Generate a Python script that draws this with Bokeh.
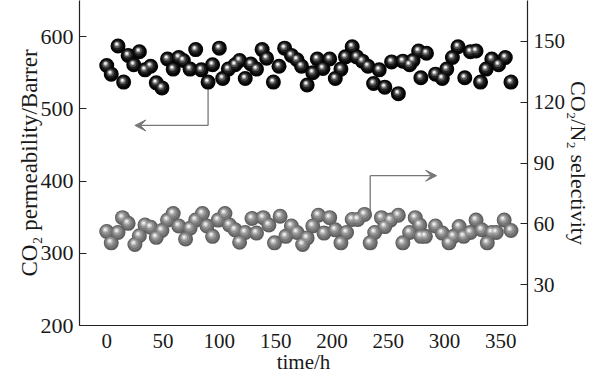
from bokeh.plotting import figure
from bokeh.models import Range1d, LinearAxis, FixedTicker, ColumnDataSource, Arrow, VeeHead
from bokeh.transform import dodge
from bokeh.embed import file_html
from bokeh.resources import INLINE

# ---- data ----
perm_time = [0, 4, 10, 15, 19, 24, 29, 34, 39, 44, 49, 54, 59, 64, 68, 74, 79, 84, 90, 94,
             100, 103, 108, 114, 118, 123, 128, 133, 138, 142, 148, 153, 158, 164, 169, 173,
             178, 183, 187, 192, 198, 203, 208, 212, 218, 222, 227, 232, 237, 242, 247, 253,
             259, 263, 269, 272, 277, 279, 284, 292, 298, 302, 307, 312, 318, 323, 328, 332,
             337, 342, 348, 354, 359]
perm_vals = [560, 548, 587, 537, 574, 561, 579, 554, 559, 536, 529, 569, 555, 571, 567, 555,
             582, 554, 537, 561, 584, 542, 555, 561, 567, 542, 562, 555, 582, 570, 537, 559,
             584, 574, 568, 559, 533, 550, 569, 556, 569, 542, 555, 572, 586, 572, 566, 559,
             535, 554, 530, 565, 521, 566, 561, 567, 580, 543, 577, 548, 542, 555, 571, 586,
             543, 579, 580, 537, 555, 569, 561, 571, 537]

sel_time = [0, 4, 10, 14, 19, 25, 29, 34, 39, 44, 49, 54, 59, 64, 70, 74, 79, 85, 89, 94,
            99, 105, 109, 114, 118, 123, 129, 133, 139, 144, 149, 154, 159, 164, 169, 174,
            178, 183, 188, 193, 198, 203, 208, 213, 218, 223, 229, 234, 238, 244, 247, 252,
            259, 263, 269, 274, 278, 279, 283, 292, 298, 304, 308, 313, 317, 323, 328, 333,
            338, 342, 346, 353, 359]
sel_vals = [56.3, 50.7, 55.8, 63.1, 60.3, 49.9, 54.2, 59.5, 58.4, 53.4, 56.8, 61.9, 65.1, 59.0,
            52.6, 57.9, 61.9, 65.1, 59.0, 53.9, 61.9, 65.1, 59.5, 57.1, 51.0, 55.8, 62.7, 55.5,
            63.1, 59.5, 50.7, 63.8, 53.9, 59.0, 55.8, 49.9, 53.1, 59.0, 64.3, 55.5, 63.1, 57.1,
            50.7, 55.8, 62.2, 62.2, 64.7, 50.7, 55.8, 63.1, 58.7, 61.9, 64.3, 50.7, 55.8, 63.1,
            59.5, 53.9, 53.9, 59.0, 55.5, 50.7, 53.9, 58.7, 53.9, 55.8, 61.9, 57.1, 50.7, 55.8,
            55.8, 61.9, 56.8]

x_ticks = [0, 50, 100, 150, 200, 250, 300, 350]
left_ticks = [200, 300, 400, 500, 600]
right_ticks = [30, 60, 90, 120, 150]

x_title = "time/h"
left_title = "CO\u2082 permeability/Barrer"
right_title = "CO\u2082/N\u2082 selectivity"

# annotation arrows (data units, left axis)
arrow_left = dict(x0=90, y0=537, y1=477, x_end=25)
arrow_right = dict(x0=234, y0=350, y1=407.5, x_end=293)

FONT = "Liberation Serif"
TXT = "#1a1a1a"

p = figure(width=596, height=376, output_backend="svg", toolbar_location=None,
           x_range=Range1d(-24.2, 373.7), y_range=Range1d(200, 650),
           min_border_left=79, min_border_right=69, min_border_top=0, min_border_bottom=50)
p.extra_y_ranges = {"sel": Range1d(10, 170)}
p.outline_line_color = None
p.xgrid.visible = False
p.ygrid.visible = False
p.background_fill_color = "white"
p.border_fill_color = "white"

xa = p.xaxis[0]
xa.ticker = FixedTicker(ticks=x_ticks)
xa.axis_label = x_title
xa.major_tick_in = 0
xa.major_tick_out = 0
xa.major_label_standoff = 8
xa.axis_label_standoff = -1

ya = p.yaxis[0]
ya.ticker = FixedTicker(ticks=left_ticks)
ya.axis_label = left_title
ya.major_tick_in = 7
ya.major_tick_out = 0
ya.major_label_standoff = 6
ya.axis_label_standoff = -4

ra = LinearAxis(y_range_name="sel", ticker=FixedTicker(ticks=right_ticks), axis_label=right_title)
ra.major_tick_in = 7
ra.major_tick_out = 0
ra.major_label_standoff = 6
ra.axis_label_standoff = -2
p.add_layout(ra, "right")

for ax in (xa, ya, ra):
    ax.minor_tick_line_color = None
    ax.axis_line_color = "#222222"
    ax.axis_line_width = 1.2
    ax.major_tick_line_color = "#222222"
    ax.major_label_text_font = FONT
    ax.major_label_text_font_size = "22px"
    ax.major_label_text_color = TXT
    ax.axis_label_text_font = FONT
    ax.axis_label_text_font_size = "22px"
    ax.axis_label_text_font_style = "normal"
    ax.axis_label_text_color = TXT
xa.major_label_text_font_size = "21px"
xa.axis_label_text_font_size = "21px"
ya.axis_label_text_font_size = "23px"
ra.major_label_text_font_size = "21px"

# arrows (drawn first, under the spheres)
ARROW_COLOR = "#777777"
for a in (arrow_left, arrow_right):
    p.segment(x0=[a["x0"]], y0=[a["y0"]], x1=[a["x0"]], y1=[a["y1"]],
              line_color=ARROW_COLOR, line_width=1.3)
    p.add_layout(Arrow(x_start=a["x0"], y_start=a["y1"], x_end=a["x_end"], y_end=a["y1"],
                       line_color=ARROW_COLOR, line_width=1.3,
                       end=VeeHead(size=11, fill_color=ARROW_COLOR, line_color=ARROW_COLOR,
                                   line_width=1)))

# sphere-like markers (highlight offsets in pixels converted to data units)
XPX = 397.9 / 448
LPX = 450 / 326
RPX = 160 / 326

src_perm = ColumnDataSource(dict(t=perm_time, v=perm_vals))
src_sel = ColumnDataSource(dict(t=sel_time, v=sel_vals))

gray_layers = [(15, "#5e5e5e", 0, 0), (12.5, "#757575", -0.4, 0.4),
               (9, "#929292", -0.9, 1.2), (5.5, "#bdbdbd", -1.3, 1.7), (3, "#ececec", -1.5, 2.0)]
for size, col, dx, dy in gray_layers:
    p.scatter(x=dodge("t", dx * XPX), y=dodge("v", dy * RPX), source=src_sel,
              y_range_name="sel", marker="circle", size=size, fill_color=col, line_color=None)

black_layers = [(15, "#050505", 0, 0), (10.5, "#1e1e1e", -0.5, 0.8),
                (7, "#555555", -0.9, 1.3), (4.5, "#a8a8a8", -1.2, 1.7), (2.5, "#f4f4f4", -1.3, 1.9)]
for size, col, dx, dy in black_layers:
    p.scatter(x=dodge("t", dx * XPX), y=dodge("v", dy * LPX), source=src_perm,
              marker="circle", size=size, fill_color=col, line_color=None)

open("out.html", "w").write(file_html(p, INLINE))
